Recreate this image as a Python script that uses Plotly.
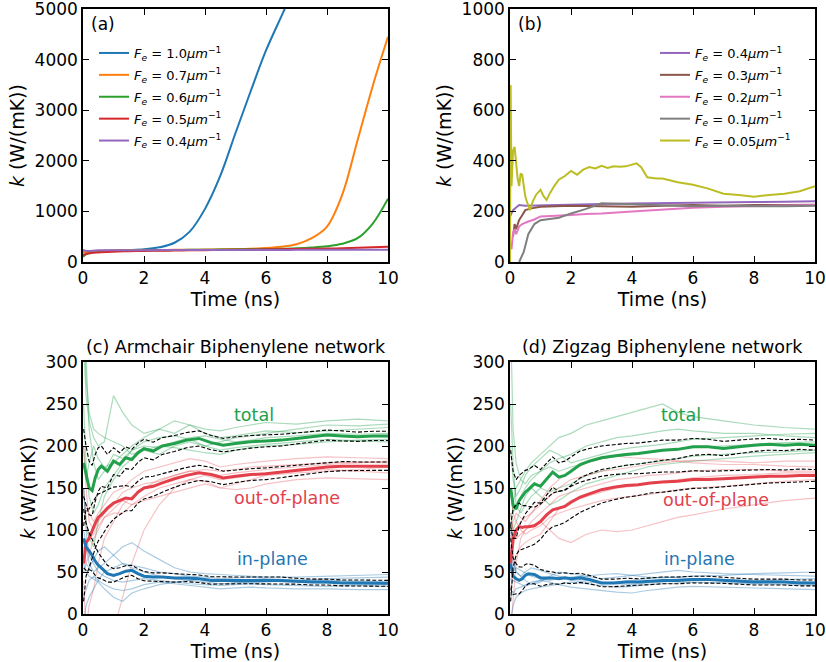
import plotly.graph_objects as go

FONT = "DejaVu Sans"

# ---------------- Panel (a) ----------------
T_A = [0, 0.1, 0.5, 1, 1.5, 2, 2.5, 3, 3.5, 4, 4.5, 5, 5.5, 6, 6.5, 7, 7.5, 8, 8.5, 9, 9.5, 10]
A_FE10 = [180, 200, 215, 225, 235, 250, 290, 380, 600, 1050, 1700, 2550, 3380, 4180, 4850, 5500, 6100, 6700, 7300, 7900, 8500, 9100]
A_FE07 = [180, 200, 215, 225, 230, 235, 238, 240, 243, 245, 250, 255, 262, 275, 300, 350, 470, 700, 1330, 2400, 3480, 4450]
A_FE06 = [100, 150, 200, 215, 222, 228, 232, 236, 240, 243, 246, 249, 252, 255, 262, 270, 285, 310, 360, 470, 760, 1250]
A_FE05 = [130, 160, 190, 205, 212, 218, 222, 226, 230, 234, 238, 242, 246, 250, 254, 258, 262, 266, 272, 280, 290, 300]
A_FE04 = [240, 220, 230, 232, 233, 234, 235, 236, 236, 237, 237, 238, 238, 239, 239, 240, 240, 241, 241, 242, 242, 243]
A_LABELS = ["1.0", "0.7", "0.6", "0.5", "0.4"]

# ---------------- Panel (b) ----------------
B_T_04 = [0, 0.05, 0.1, 0.2, 0.3, 0.5, 1, 2, 3, 4, 5, 6, 7, 8, 9, 10]
B_FE04 = [180, 195, 205, 215, 225, 222, 224, 226, 229, 231, 233, 234, 236, 237, 238, 240]
B_T_03 = [0.1, 0.15, 0.2, 0.3, 0.4, 0.5, 0.7, 1, 1.5, 2, 3, 4, 5, 6, 7, 8, 9, 10]
B_FE03 = [100, 150, 130, 166, 185, 205, 212, 218, 220, 222, 220, 218, 222, 225, 222, 225, 225, 226]
B_T_02 = [0.05, 0.1, 0.15, 0.2, 0.3, 0.4, 0.6, 0.8, 1, 1.5, 2, 2.5, 3, 4, 5, 6, 7, 8, 9, 10]
B_FE02 = [50, 115, 130, 110, 140, 150, 160, 168, 180, 182, 186, 190, 192, 200, 208, 214, 218, 220, 222, 225]
B_T_01 = [0.3, 0.45, 0.6, 0.8, 1.0, 1.3, 1.6, 2, 2.5, 3, 3.5, 4, 4.5, 5, 6, 7, 8, 9, 10]
B_FE01 = [0, 40, 110, 150, 165, 170, 175, 192, 210, 232, 230, 228, 225, 222, 220, 222, 220, 220, 222]
B_T_005 = [0, 0.02, 0.05, 0.1, 0.15, 0.2, 0.25, 0.3, 0.35, 0.4, 0.45, 0.5, 0.55, 0.65, 0.75, 0.85, 1.0, 1.1,
           1.2, 1.3, 1.45, 1.6, 1.8, 2.0, 2.2, 2.4, 2.6, 2.8, 3.0, 3.2, 3.4, 3.6, 3.8, 4.0, 4.15, 4.3, 4.5,
           4.8, 5.0, 5.5, 6.0, 6.5, 7.0, 7.5, 8.0, 8.5, 9.0, 9.5, 10]
B_FE005 = [0, 700, 300, 440, 455, 380, 330, 300, 350, 345, 300, 260, 240, 205, 240, 265, 285, 260,
           245, 270, 300, 325, 340, 360, 345, 365, 375, 370, 380, 372, 378, 376, 378, 385, 390, 375, 335,
           330, 330, 315, 305, 290, 270, 265, 258, 265, 270, 280, 300]
B_LABELS = ["0.4", "0.3", "0.2", "0.1", "0.05"]

# ---------------- Panels (c) and (d): averages and error bars ----------------
T_MEAN = [0.02, 0.1, 0.2, 0.3, 0.4, 0.5, 0.6, 0.8, 1.0, 1.2, 1.4, 1.6, 1.8, 2.0, 2.3, 2.6, 3.0, 3.4, 3.8,
          4.2, 4.6, 5.0, 5.5, 6.0, 6.5, 7.0, 7.5, 8.0, 8.5, 9.0, 9.5, 10.0]

C_TOTAL_MEAN = [180, 165, 150, 147, 162, 172, 176, 170, 182, 178, 186, 184, 192, 197, 194, 200, 203, 207, 209,
                204, 201, 203, 205, 206, 207, 209, 211, 213, 212, 211, 212, 212]
C_TOTAL_ERR = [40, 35, 32, 30, 28, 26, 24, 20, 16, 14, 13, 12, 11.5, 11, 10.5, 10, 9.5, 9, 9, 8.5, 8, 8, 7.5,
               7, 7, 6.5, 6, 6, 6, 5.5, 5.5, 5.5]
C_OUT_MEAN = [60, 85, 90, 100, 108, 115, 118, 126, 132, 135, 138, 137, 145, 150, 152, 156, 161, 165, 168, 166,
              162, 164, 166, 167, 169, 171, 173, 175, 176, 176, 176, 176]
C_OUT_ERR = [45, 40, 35, 32, 30, 28, 26, 22, 19, 17, 15, 14, 13, 13, 12, 11, 10, 9.5, 9, 8.5, 8, 7.5, 7, 7,
             6.5, 6, 6, 5.5, 5.5, 5, 5, 5]
C_IN_MEAN = [90, 80, 75, 70, 63, 58, 55, 48, 46, 48, 51, 52, 48, 45, 44, 44, 43, 43, 42, 40, 40, 40, 40, 40, 40,
             39, 38, 38, 37, 37, 37, 36.5]
C_IN_ERR = [35, 28, 22, 19, 17, 15, 13, 10, 8, 7, 6.5, 6, 6, 5.5, 5, 5, 5, 4.5, 4.5, 4.5, 4, 4, 4, 4, 4, 3.5,
            3.5, 3.5, 3.5, 3.5, 3.5, 3.5]

D_TOTAL_MEAN = [150, 130, 125, 135, 140, 145, 148, 155, 152, 160, 169, 163, 165, 170, 178, 182, 186, 188, 190,
                191, 193, 195, 196, 199, 199, 197, 199, 201, 202, 201, 202, 201]
D_TOTAL_ERR = [45, 40, 35, 30, 28, 26, 24, 22, 20, 19, 18, 17, 17, 17, 16, 15, 14, 13.5, 13, 12.5, 12, 12, 11,
               10, 9, 8.5, 8, 7.5, 7, 6.5, 6, 6]
D_OUT_MEAN = [60, 90, 100, 104, 103, 104, 104, 105, 110, 118, 124, 126, 128, 133, 139, 143, 148, 151, 153, 154,
              156, 157, 158, 160, 160, 161, 162, 163, 164, 164, 165, 165]
D_OUT_ERR = [45, 35, 30, 28, 26, 25, 24, 22, 21, 20, 20, 20, 19, 19, 18, 17, 16, 15, 14, 13, 12, 12, 11, 10.5,
             10, 9.5, 9, 8.5, 8, 7.5, 7.5, 7]
D_IN_MEAN = [60, 45, 42, 40, 42, 46, 48, 47, 43, 43, 43, 42, 43, 42, 43, 41, 37, 37, 38, 38, 39, 40, 40, 41, 41,
             40, 39, 38, 38, 38, 37, 37]
D_IN_ERR = [30, 22, 18, 16, 14, 13, 12, 11, 10, 8, 7, 6.5, 6, 6, 5.5, 5, 4.5, 4.5, 4.5, 4, 4, 4, 4, 4, 4, 3.5,
            3.5, 3.5, 3.5, 3.5, 3.5, 3.5]

# ---------------- Panels (c) and (d): individual runs ----------------
T_RUN = [0.02, 0.1, 0.2, 0.35, 0.5, 0.7, 1.0, 1.3, 1.6, 2.0, 2.5, 3.0, 3.5, 4.0, 4.5, 5.0, 5.5, 6.0, 7.0, 8.0,
         9.0, 10.0]

C_TOTAL_RUNS = [
    [320, 260, 230, 210, 200, 205, 260, 240, 225, 215, 220, 215, 225, 220, 218, 222, 225, 228, 226, 230, 232, 230],
    [250, 180, 140, 120, 130, 150, 165, 180, 195, 205, 210, 212, 208, 200, 205, 210, 212, 215, 220, 225, 224, 226],
    [380, 300, 220, 180, 160, 170, 190, 185, 195, 200, 198, 205, 210, 212, 208, 205, 207, 210, 212, 215, 214, 215],
    [150, 110, 90, 80, 110, 140, 160, 175, 185, 195, 190, 200, 205, 200, 195, 198, 200, 202, 205, 208, 206, 205],
    [350, 280, 240, 220, 215, 210, 205, 200, 190, 195, 200, 198, 195, 192, 190, 195, 198, 200, 202, 205, 207, 208],
    [200, 160, 180, 200, 185, 175, 180, 190, 200, 210, 220, 230, 225, 215, 210, 212, 215, 218, 216, 218, 220, 222],
]
C_OUT_RUNS = [
    [40, -20, 10, 30, 60, 90, 110, 130, 140, 150, 160, 165, 170, 168, 165, 168, 170, 172, 175, 178, 180, 182],
    [120, 130, 120, 110, 120, 130, 145, 150, 160, 170, 175, 180, 185, 182, 175, 178, 180, 182, 185, 187, 186, 185],
    [80, 60, 70, 90, 100, 115, 125, 135, 130, 140, 150, 155, 160, 158, 150, 148, 150, 155, 160, 162, 161, 160],
    [200, 150, 110, 100, 110, 120, 130, 145, 150, 155, 158, 165, 170, 172, 170, 172, 175, 176, 178, 180, 181, 180],
    [-20, -20, -20, -20, -20, -20, -20, 20, 60, 100, 130, 150, 160, 165, 160, 162, 165, 168, 170, 172, 170, 168],
    [150, 110, 90, 95, 105, 115, 120, 120, 130, 135, 140, 145, 150, 155, 150, 155, 160, 165, 168, 170, 172, 175],
]
C_IN_RUNS = [
    [100, 80, 60, 50, 55, 60, 70, 80, 85, 75, 65, 55, 50, 48, 47, 46, 45, 44, 44, 45, 46, 47],
    [20, 30, 40, 45, 40, 35, 30, 28, 30, 35, 38, 36, 34, 32, 30, 31, 32, 31, 30, 30, 29, 29],
    [-10, 10, 20, 30, 40, 50, 55, 60, 58, 55, 50, 48, 45, 44, 42, 43, 44, 42, 40, 40, 39, 38],
    [150, 100, 70, 60, 50, 45, 40, 38, 40, 42, 40, 38, 36, 35, 34, 35, 36, 35, 34, 33, 34, 33],
    [60, 50, 45, 42, 38, 30, 20, 15, 25, 30, 35, 38, 40, 42, 40, 38, 37, 38, 40, 42, 43, 44],
    [50, 60, 55, 65, 75, 80, 70, 60, 55, 50, 45, 42, 40, 38, 36, 37, 38, 39, 38, 37, 36, 35],
]

D_TOTAL_RUNS = [
    [350, 220, 180, 160, 170, 180, 190, 200, 210, 215, 225, 230, 235, 240, 245, 250, 240, 235, 230, 225, 222, 220],
    [150, 120, 130, 140, 150, 160, 170, 180, 185, 190, 200, 205, 210, 212, 215, 218, 220, 218, 215, 215, 212, 210],
    [100, 130, 150, 160, 155, 165, 170, 175, 170, 175, 180, 185, 188, 190, 192, 195, 197, 198, 200, 202, 204, 205],
    [250, 180, 130, 120, 130, 140, 150, 145, 150, 155, 165, 170, 175, 178, 180, 182, 185, 188, 190, 192, 193, 195],
    [120, 100, 110, 125, 140, 150, 140, 130, 135, 145, 155, 160, 165, 170, 175, 178, 180, 182, 185, 188, 190, 192],
    [200, 160, 140, 150, 165, 175, 185, 195, 190, 180, 185, 190, 195, 198, 200, 202, 205, 208, 210, 212, 214, 215],
]
D_OUT_RUNS = [
    [-20, 20, 60, 90, 100, 105, 110, 100, 90, 85, 95, 100, 98, 100, 105, 110, 115, 118, 125, 130, 135, 138],
    [60, 80, 100, 110, 115, 120, 135, 150, 160, 170, 180, 185, 188, 186, 185, 184, 182, 180, 178, 178, 176, 175],
    [120, 100, 90, 95, 100, 110, 120, 130, 140, 145, 150, 155, 160, 162, 165, 166, 168, 170, 172, 172, 170, 170],
    [30, 50, 70, 80, 85, 90, 95, 110, 125, 135, 140, 145, 150, 152, 155, 158, 160, 162, 165, 166, 168, 168],
    [150, 120, 110, 100, 95, 100, 105, 115, 120, 125, 130, 135, 138, 140, 142, 145, 148, 150, 152, 155, 158, 160],
    [90, 110, 120, 115, 110, 120, 130, 140, 150, 160, 165, 170, 172, 175, 178, 180, 182, 183, 182, 180, 182, 182],
]
D_IN_RUNS = [
    [80, 60, 50, 45, 40, 35, 38, 45, 50, 48, 45, 42, 44, 46, 48, 50, 52, 50, 48, 47, 46, 45],
    [20, 25, 30, 32, 35, 38, 40, 38, 35, 32, 30, 28, 26, 25, 28, 30, 32, 33, 32, 31, 30, 29],
    [40, 50, 55, 52, 48, 45, 42, 40, 42, 44, 45, 47, 48, 46, 44, 43, 44, 45, 46, 48, 49, 50],
    [-10, 10, 20, 25, 28, 30, 32, 34, 36, 38, 36, 34, 32, 33, 35, 36, 37, 38, 37, 36, 35, 34],
    [100, 70, 50, 45, 50, 55, 52, 48, 45, 42, 40, 38, 36, 35, 37, 38, 40, 42, 41, 40, 39, 38],
    [30, 40, 38, 35, 33, 36, 40, 42, 44, 40, 38, 37, 38, 40, 42, 44, 43, 42, 40, 39, 41, 42],
]

COMP_LABELS = ["total", "out-of-plane", "in-plane"]
COMP_LABEL_POS = {"c": [(5.6, 237), (6.7, 138), (6.2, 65)], "d": [(5.6, 237), (6.75, 136), (6.2, 65)]}

# ---------------- styles ----------------
COL_A = ["#1f77b4", "#ff7f0e", "#2ca02c", "#d62728", "#9467bd"]
COL_B = ["#9467bd", "#8c564b", "#e377c2", "#7f7f7f", "#bcbd22"]
COL_TOTAL, COL_OUT, COL_IN = "#22a04b", "#e3404b", "#1f77b4"
FADE = {COL_TOTAL: "rgba(34,160,75,0.38)", COL_OUT: "rgba(227,64,75,0.32)", COL_IN: "rgba(31,119,180,0.38)"}
TICK_SIZE = 17
TITLE_SIZE = 19


def fe_name(v):
    return "<i>F<sub>e</sub></i> = " + v + "<i>μm</i><sup>−1</sup>"


fig = go.Figure()

# panel (a)
for i, (y, lab, c) in enumerate(zip([A_FE10, A_FE07, A_FE06, A_FE05, A_FE04], A_LABELS, COL_A)):
    fig.add_trace(go.Scatter(x=T_A, y=y, mode="lines", name=fe_name(lab), line=dict(color=c, width=2, shape="spline"),
                             xaxis="x", yaxis="y", legend="legend", legendgroup="a%d" % i))

# panel (b)
for i, (t, y, lab, c) in enumerate(zip([B_T_04, B_T_03, B_T_02, B_T_01, B_T_005],
                                       [B_FE04, B_FE03, B_FE02, B_FE01, B_FE005], B_LABELS, COL_B)):
    fig.add_trace(go.Scatter(x=t, y=y, mode="lines", name=fe_name(lab), line=dict(color=c, width=2),
                             xaxis="x2", yaxis="y2", legend="legend2", legendgroup="b%d" % i))


def add_panel(xa, ya, runs, means, errs):
    cols = [COL_TOTAL, COL_OUT, COL_IN]
    for rs, c in zip(runs, cols):
        for r in rs:
            fig.add_trace(go.Scatter(x=T_RUN, y=r, mode="lines", line=dict(color=FADE[c], width=1.2),
                                     showlegend=False, xaxis=xa, yaxis=ya, hoverinfo="skip"))
    for m, c in zip(means, cols):
        fig.add_trace(go.Scatter(x=T_MEAN, y=m, mode="lines", line=dict(color=c, width=3),
                                 showlegend=False, xaxis=xa, yaxis=ya))
    for m, e in zip(means, errs):
        up = [a + b for a, b in zip(m, e)]
        lo = [a - b for a, b in zip(m, e)]
        for yy in (up, lo):
            fig.add_trace(go.Scatter(x=T_MEAN, y=yy, mode="lines", line=dict(color="black", width=1.1, dash="4px,2px"),
                                     showlegend=False, xaxis=xa, yaxis=ya))


add_panel("x3", "y3", [C_TOTAL_RUNS, C_OUT_RUNS, C_IN_RUNS], [C_TOTAL_MEAN, C_OUT_MEAN, C_IN_MEAN],
          [C_TOTAL_ERR, C_OUT_ERR, C_IN_ERR])
add_panel("x4", "y4", [D_TOTAL_RUNS, D_OUT_RUNS, D_IN_RUNS], [D_TOTAL_MEAN, D_OUT_MEAN, D_IN_MEAN],
          [D_TOTAL_ERR, D_OUT_ERR, D_IN_ERR])

W, H = 826, 662


def xdom(a, b):
    return [a / W, b / W]


def ydom(top, bottom):
    return [1 - bottom / H, 1 - top / H]


XL = xdom(83, 388)
XR = xdom(510, 815)
YT = ydom(9, 262)
YB = ydom(362, 614)

ax_common = dict(showline=True, linecolor="black", linewidth=1.5, mirror="ticks", ticks="inside", ticklen=6,
                 tickwidth=1.3, tickcolor="black", showgrid=False, zeroline=False, automargin=False,
                 ticklabeloverflow="allow", tickfont=dict(family=FONT, size=TICK_SIZE, color="black"))
xt = dict(tickvals=[0, 2, 4, 6, 8, 10], range=[0, 10],
          title=dict(text="Time (ns)", font=dict(family=FONT, size=TITLE_SIZE, color="black"), standoff=1))
ytitle = dict(text="<i>k</i> (W/(mK))", font=dict(family=FONT, size=TITLE_SIZE, color="black"), standoff=5)

fig.update_layout(
    width=W, height=H, margin=dict(l=0, r=0, t=0, b=0), plot_bgcolor="white", paper_bgcolor="white",
    font=dict(family=FONT, color="black"),
    xaxis=dict(domain=XL, anchor="y", **xt, **ax_common),
    yaxis=dict(domain=YT, anchor="x", range=[0, 5000], tickvals=[0, 1000, 2000, 3000, 4000, 5000],
               title=ytitle, **ax_common),
    xaxis2=dict(domain=XR, anchor="y2", **xt, **ax_common),
    yaxis2=dict(domain=YT, anchor="x2", range=[0, 1000], tickvals=[0, 200, 400, 600, 800, 1000],
                title=ytitle, **ax_common),
    xaxis3=dict(domain=XL, anchor="y3", **xt, **ax_common),
    yaxis3=dict(domain=YB, anchor="x3", range=[0, 300], tickvals=[0, 50, 100, 150, 200, 250, 300],
                title=ytitle, **ax_common),
    xaxis4=dict(domain=XR, anchor="y4", **xt, **ax_common),
    yaxis4=dict(domain=YB, anchor="x4", range=[0, 300], tickvals=[0, 50, 100, 150, 200, 250, 300],
                title=ytitle, **ax_common),
    legend=dict(x=94 / W, y=1 - 38 / H, xanchor="left", yanchor="top", bgcolor="rgba(0,0,0,0)",
                font=dict(family=FONT, size=13, color="black"), itemwidth=30, tracegroupgap=2),
    legend2=dict(x=655 / W, y=1 - 38 / H, xanchor="left", yanchor="top", bgcolor="rgba(0,0,0,0)",
                 font=dict(family=FONT, size=13, color="black"), itemwidth=30, tracegroupgap=2),
    showlegend=True,
)

ann = []
for xd, yd, txt in [("x", "y", "(a)"), ("x2", "y2", "(b)")]:
    ann.append(dict(xref=xd + " domain", yref=yd + " domain", x=0.02, y=0.99,
                    xanchor="left", yanchor="top", text=txt, showarrow=False,
                    font=dict(family=FONT, size=TICK_SIZE, color="black")))
for xd, yd, txt in [("x3", "y3", "(c) Armchair Biphenylene network"), ("x4", "y4", "(d) Zigzag Biphenylene network")]:
    ann.append(dict(xref=xd + " domain", yref=yd + " domain", x=0.5, y=1.01, xanchor="center", yanchor="bottom",
                    text=txt, showarrow=False, font=dict(family=FONT, size=17.5, color="black")))
for key, xd, yd in [("c", "x3", "y3"), ("d", "x4", "y4")]:
    for (tx, ty), lab, c in zip(COMP_LABEL_POS[key], COMP_LABELS, [COL_TOTAL, COL_OUT, COL_IN]):
        ann.append(dict(xref=xd, yref=yd, x=tx, y=ty, text=lab, showarrow=False, xanchor="center",
                        yanchor="middle", font=dict(family=FONT, size=17.5, color=c)))
fig.update_layout(annotations=ann)

fig.write_html("out.html", config={"displayModeBar": False},
               post_script="document.body.style.margin='0';document.body.style.overflow='hidden';")
